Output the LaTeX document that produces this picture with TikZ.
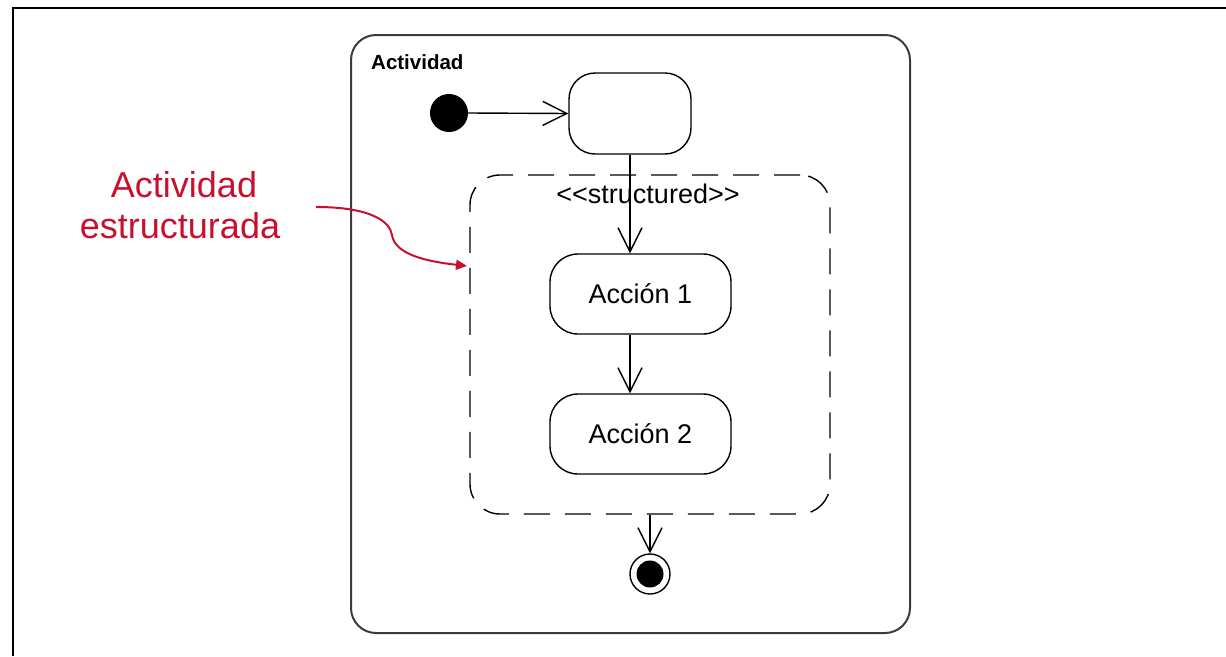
\documentclass[tikz,border=0pt]{standalone}
\usepackage{fontspec}
\setmainfont{Liberation Sans}
\usetikzlibrary{arrows.meta}
\definecolor{annot}{RGB}{200,16,46}
\definecolor{frameline}{RGB}{60,60,60}
\tikzset{
  stateline/.style={draw=black, line width=1.4pt},
  actbox/.style={stateline, rectangle, rounded corners=28pt, minimum width=181pt, minimum height=80pt, inner sep=0pt, font=\fontsize{27}{32}\selectfont},
  flow/.style={draw=black, line width=1.4pt, -{Straight Barb[length=24pt,width=24pt,line width=1.4pt]}},
  redarr/.style={draw=annot, line width=2pt, -{Triangle[length=11pt,width=10pt]}}
}
\begin{document}
\begin{tikzpicture}[x=1pt,y=-1pt]
\useasboundingbox (0,0) rectangle (1226,656);
% page frame
\draw[line width=2.5pt, black] (13,656) -- (13,8) -- (1226,8);
% outer activity
\node[draw=frameline, line width=2pt, rectangle, rounded corners=25pt, minimum width=559pt, minimum height=598pt, inner sep=0pt] (outer) at (630.5,334) {};
\node[anchor=base west, font=\bfseries\fontsize{20.5}{24}\selectfont, inner sep=0pt] (title) at (371,69) {Actividad};
% initial node
\node[circle, fill=black, minimum size=38pt, inner sep=0pt] (init) at (449,113) {};
% first (empty) action
\node[stateline, rectangle, rounded corners=26pt, minimum width=122pt, minimum height=81pt, inner sep=0pt] (top) at (630,113.5) {};
% structured region
\node[draw=black, line width=1.4pt, dash pattern=on 26pt off 15pt, rectangle, rounded corners=30pt, minimum width=360pt, minimum height=339pt, inner sep=0pt] (struct) at (650,344.5) {};
\node[anchor=base, font=\fontsize{27}{32}\selectfont, inner sep=0pt] (stereo) at (648,203) {<{}<structured>{}>};
% actions
\node[actbox] (a1) at (640.5,294) {Acción 1};
\node[actbox] (a2) at (640.5,434) {Acción 2};
% final node
\node[stateline, circle, fill=white, minimum size=40pt, inner sep=0pt] (final) at (650,574) {};
\fill[black] (final.center) circle (13.5pt);
% flows
\draw[flow] (init.east) -- (top.west);
\draw[flow] (top.south) -- (top.south |- a1.north);
\draw[flow] (a1.south -| top.south) -- (a2.north -| top.south);
\draw[flow] (final |- struct.south) -- (final.north);
% annotation
\node[anchor=base, text=annot, font=\fontsize{36}{41}\selectfont, inner sep=0pt] (lbl1) at (184,197) {Actividad};
\node[anchor=base, text=annot, font=\fontsize{36}{41}\selectfont, inner sep=0pt] (lbl2) at (180,238) {estructurada};
\coordinate (cstart) at (316,207);
\coordinate (ctip) at (467,266);
\draw[redarr] (cstart) .. controls (372,207) and (390,222) .. (392,235)
              .. controls (395,256) and (432,262) .. (ctip);
\end{tikzpicture}
\end{document}
